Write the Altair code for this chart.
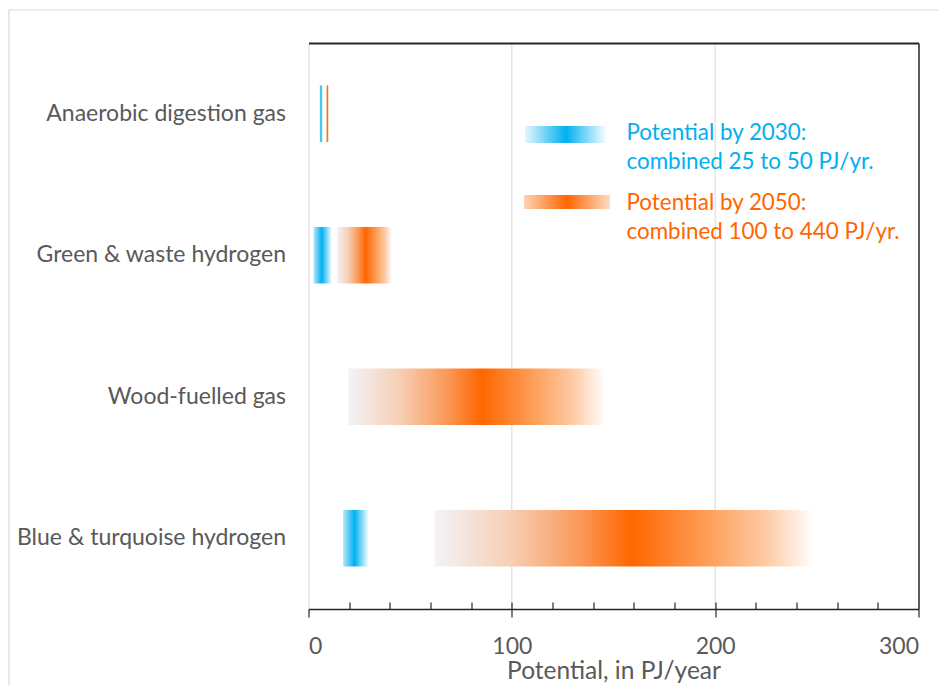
import altair as alt
import pandas as pd

# Gas sources and their potential ranges (PJ/year)
categories = [
    "Anaerobic digestion gas",
    "Green & waste hydrogen",
    "Wood-fuelled gas",
    "Blue & turquoise hydrogen",
]
low_2030 = [5.5, 2.5, None, 17.0]
high_2030 = [7.0, 11.5, None, 29.5]
low_2050 = [8.5, 14.0, 19.5, 62.0]
high_2050 = [10.0, 41.0, 146.0, 248.5]

major_ticks = [0, 100, 200, 300]
minor_ticks = [20, 40, 60, 80, 100, 120, 140, 160, 180, 200, 220, 240, 260, 280]
grid_values = [100, 200]

legend_2030 = ["Potential by 2030:", "combined 25 to 50 PJ/yr."]
legend_2050 = ["Potential by 2050:", "combined 100 to 440 PJ/yr."]

BLUE = "#00b0f0"
ORANGE = "#ff6600"
DARK = "#262626"
GREY_LINE = "#d9d9d9"
TEXT = "#595959"
FONT = "Lato"

W, H = 610, 566

df30 = pd.DataFrame({"category": categories, "low": low_2030, "high": high_2030}).dropna()
df50 = pd.DataFrame({"category": categories, "low": low_2050, "high": high_2050})
grid_df = pd.DataFrame({"v": grid_values})

x_scale = alt.Scale(domain=[0, 300], nice=False, zero=True)
y_scale = alt.Scale(domain=categories, paddingInner=0.6, paddingOuter=0.3)


def grad(stops):
    return alt.LinearGradient(
        gradient="linear",
        x1=0, x2=1, y1=0, y2=0,
        stops=[alt.GradientStop(offset=o, color=c) for o, c in stops],
    )


blue_fill = grad([(0, "#b8e6f9"), (0.45, BLUE), (1, "#fafdff")])
orange_fill = grad([
    (0, "#f3f3f7"), (0.2, "#f6cfb5"), (0.38, "#fa9a5a"), (0.52, ORANGE),
    (0.7, "#fd994f"), (0.87, "#fdc9a2"), (1, "#ffffff"),
])
legend_blue_fill = grad([(0, "#e6f6fd"), (0.5, BLUE), (1, "#ffffff")])
legend_orange_fill = grad([(0, "#fdd3b5"), (0.5, ORANGE), (1, "#fddcc6")])

# Gridlines; their x axis carries the small upward ticks along the bottom edge
grid = alt.Chart(grid_df).mark_rule(color=GREY_LINE, strokeWidth=1).encode(
    x=alt.X(
        "v:Q", scale=x_scale,
        axis=alt.Axis(
            orient="top", offset=-H, values=minor_ticks, tickSize=7,
            tickColor=DARK, tickWidth=1.2, domain=False, labels=False,
            grid=False, title=None, zindex=2,
        ),
    )
)

bars_2030 = alt.Chart(df30).mark_bar(fill=blue_fill, stroke=None).encode(
    x=alt.X(
        "low:Q", scale=x_scale,
        axis=alt.Axis(
            orient="bottom", values=major_ticks, tickSize=8, tickColor=DARK,
            tickWidth=1.2, domainColor=DARK, domainWidth=1.5, grid=False,
            labelFontSize=23, labelColor=TEXT, labelFont=FONT, labelPadding=18,
            title="Potential, in PJ/year", titleFontSize=24.5, titleColor=TEXT,
            titleFont=FONT, titleFontWeight="normal", titlePadding=1,
            zindex=2,
        ),
    ),
    x2="high:Q",
    y=alt.Y(
        "category:N", scale=y_scale,
        axis=alt.Axis(
            orient="left", ticks=False, domainColor=GREY_LINE, domainWidth=1,
            labelFontSize=23, labelColor=TEXT, labelFont=FONT,
            labelPadding=23, labelLimit=400, title=None, grid=False,
        ),
    ),
)

bars_2050 = alt.Chart(df50).mark_bar(fill=orange_fill, stroke=None).encode(
    x=alt.X(
        "low:Q", scale=x_scale,
        axis=alt.Axis(
            orient="top", ticks=False, labels=False, grid=False, title=None,
            domainColor=DARK, domainWidth=2, zindex=2,
        ),
    ),
    x2="high:Q",
    y=alt.Y(
        "category:N", scale=y_scale,
        axis=alt.Axis(
            orient="right", ticks=False, labels=False, grid=False, title=None,
            domainColor=DARK, domainWidth=1.5, zindex=2,
        ),
    ),
)

# Legend swatches and captions
sw_src = pd.DataFrame({"k": [0]})
swatch_2030 = alt.Chart(sw_src).mark_rect(fill=legend_blue_fill).encode(
    x=alt.value(216.5), x2=alt.value(298.5), y=alt.value(83), y2=alt.value(100)
)
swatch_2050 = alt.Chart(sw_src).mark_rect(fill=legend_orange_fill).encode(
    x=alt.value(215.5), x2=alt.value(301.5), y=alt.value(152), y2=alt.value(166)
)

legend_texts = []
for lines, color, y0 in ((legend_2030, BLUE, 90), (legend_2050, ORANGE, 160)):
    for i, line in enumerate(lines):
        legend_texts.append(
            alt.Chart(pd.DataFrame({"t": [line]})).mark_text(
                align="left", baseline="middle", font=FONT, fontSize=22.4,
                color=color,
            ).encode(x=alt.value(318), y=alt.value(y0 + 28.7 * i), text="t:N")
        )

# Light border of the whole chart area (left and top edges)
frame_left = alt.Chart(sw_src).mark_rule(color=GREY_LINE, strokeWidth=1.2).encode(
    x=alt.value(-299.5), y=alt.value(-33), y2=alt.value(660)
)
frame_top = alt.Chart(sw_src).mark_rule(color=GREY_LINE, strokeWidth=1.2).encode(
    x=alt.value(-299.5), x2=alt.value(640), y=alt.value(-33)
)

chart = (
    alt.layer(
        frame_left, frame_top, grid, bars_2030, bars_2050,
        swatch_2030, swatch_2050, *legend_texts,
    )
    .resolve_axis(x="independent", y="independent")
    .properties(
        width=W, height=H,
        autosize=alt.AutoSizeParams(type="none"),
        padding={"left": 308.5, "top": 43, "right": 19.5, "bottom": 76},
        background="white",
    )
    .configure(font=FONT)
    .configure_view(stroke=None)
)

chart.save("out.html", embed_options={"renderer": "svg", "actions": False})
